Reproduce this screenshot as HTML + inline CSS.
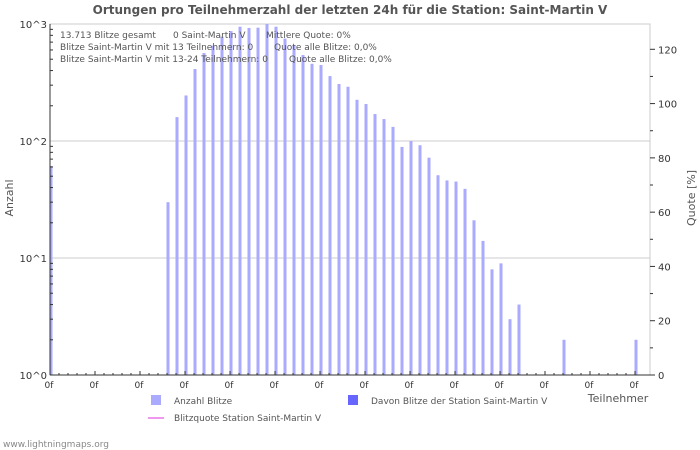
<!DOCTYPE html>
<html><head><meta charset="utf-8"><style>
body{margin:0;background:#fff;}
svg{display:block;font-family:"DejaVu Sans","Liberation Sans",sans-serif;}
</style></head><body>
<svg id="c" width="700" height="450">
<text x="350" y="14" text-anchor="middle" font-size="12" font-weight="bold" fill="#555">Ortungen pro Teilnehmerzahl der letzten 24h für die Station: Saint-Martin V</text>
<g id="grid"></g>
<g id="bars"></g>
<g id="axes"></g>
<g font-size="9" fill="#555">
<text x="60" y="38">13.713 Blitze gesamt</text><text x="173" y="38">0 Saint-Martin V</text><text x="266" y="38">Mittlere Quote: 0%</text>
<text x="60" y="50">Blitze Saint-Martin V mit 13 Teilnehmern: 0</text><text x="274" y="50">Quote alle Blitze: 0,0%</text>
<text x="60" y="62">Blitze Saint-Martin V mit 13-24 Teilnehmern: 0</text><text x="289" y="62">Quote alle Blitze: 0,0%</text>
</g>
<text transform="translate(13,198) rotate(-90)" text-anchor="middle" font-size="11" fill="#555">Anzahl</text>
<text transform="translate(695,198) rotate(-90)" text-anchor="middle" font-size="11" fill="#555">Quote [%]</text>
<text x="618" y="402" text-anchor="middle" font-size="11" fill="#555">Teilnehmer</text>
<rect x="151" y="395" width="10" height="10" fill="#aaaaff"/>
<text x="174" y="404" font-size="9" fill="#555">Anzahl Blitze</text>
<rect x="348" y="395" width="10" height="10" fill="#6666ff"/>
<text x="371" y="404" font-size="9" fill="#555">Davon Blitze der Station Saint-Martin V</text>
<line x1="148" y1="418" x2="164" y2="418" stroke="#ee99ee" stroke-width="2"/>
<text x="174" y="421" font-size="9" fill="#555">Blitzquote Station Saint-Martin V</text>
<text x="3" y="447" font-size="9" fill="#888">www.lightningmaps.org</text>
</svg>
<script>
const values=[61,1,1,1,1,1,1,1,1,1,1,1,1,30,160,245,412,565,653,780,870,948,925,930,1000,948,750,660,543,457,446,359,307,291,225,207,170,154,132,89,100,92,72,51,46,45,39,21,14,8,9,3,4,1,1,1,1,2,1,1,1,1,1,1,1,2];
const yTickLabels=["10^0","10^1","10^2","10^3"];
const y2Ticks=[0,20,40,60,80,100,120];
const NS="http://www.w3.org/2000/svg";
const X0=50,X1=650,Y0=375,Y3=24,STEP=9;
const y=v=>Y0-(Math.log10(Math.max(v,1)))*(Y0-Y3)/3;
const y2=v=>Y0-v*(Y0-49.3)/120;
const x=i=>X0+1+i*STEP;
function mk(t,a,p){const e=document.createElementNS(NS,t);for(const k in a)e.setAttribute(k,a[k]);p.appendChild(e);return e;}
const grid=document.getElementById('grid'),bars=document.getElementById('bars'),axes=document.getElementById('axes');
mk('rect',{x:X0,y:Y3,width:X1-X0,height:Y0-Y3,fill:'none',stroke:'#ccc'},grid);
yTickLabels.forEach((l,k)=>{const yy=Y0-k*(Y0-Y3)/3;
 if(k>0&&k<3){const g=mk('line',{x1:X0,x2:X1,y1:yy,y2:yy,stroke:'#ccc'},grid);}
 const t=mk('text',{x:X0-3,y:yy+4,'text-anchor':'end','font-size':10,fill:'#333'},axes);t.textContent=l;
 
 
 if(k<3)for(let m=2;m<10;m++){const my=yy-Math.log10(m)*(Y0-Y3)/3;mk('line',{x1:X0,x2:X0+3,y1:my,y2:my,stroke:'#333'},axes);}
});
values.forEach((v,i)=>{const top=y(v);const r=mk('rect',{x:x(i)-1.5,y:top,width:3,height:Math.max(Y0-top,0),fill:'#aaaaff'},bars);
 
 
 mk('line',{x1:x(i)-1,x2:x(i)-1,y1:Y0,y2:Y0-(i%5==0?4:2),stroke:'#333'},axes);
 if(i%5==0){const t=mk('text',{x:x(i)-2,y:Y0+13,'text-anchor':'middle','font-size':9,fill:'#333'},axes);t.textContent='0f';
 
 }
});
mk('line',{x1:X0,x2:X1,y1:Y0,y2:Y0,stroke:'#333'},axes);
mk('line',{x1:X0,x2:X0,y1:Y3,y2:Y0,stroke:'#333'},axes);
y2Ticks.forEach(v=>{const yy=y2(v);mk('line',{x1:X1,x2:X1+5,y1:yy,y2:yy,stroke:'#333'},axes);
 const m=y2(v+10);if(v<120)mk('line',{x1:X1,x2:X1+3,y1:m,y2:m,stroke:'#333'},axes);
 const t=mk('text',{x:X1+8,y:yy+4,'font-size':10,fill:'#333'},axes);t.textContent=v;
 
 });
</script>
</body></html>
